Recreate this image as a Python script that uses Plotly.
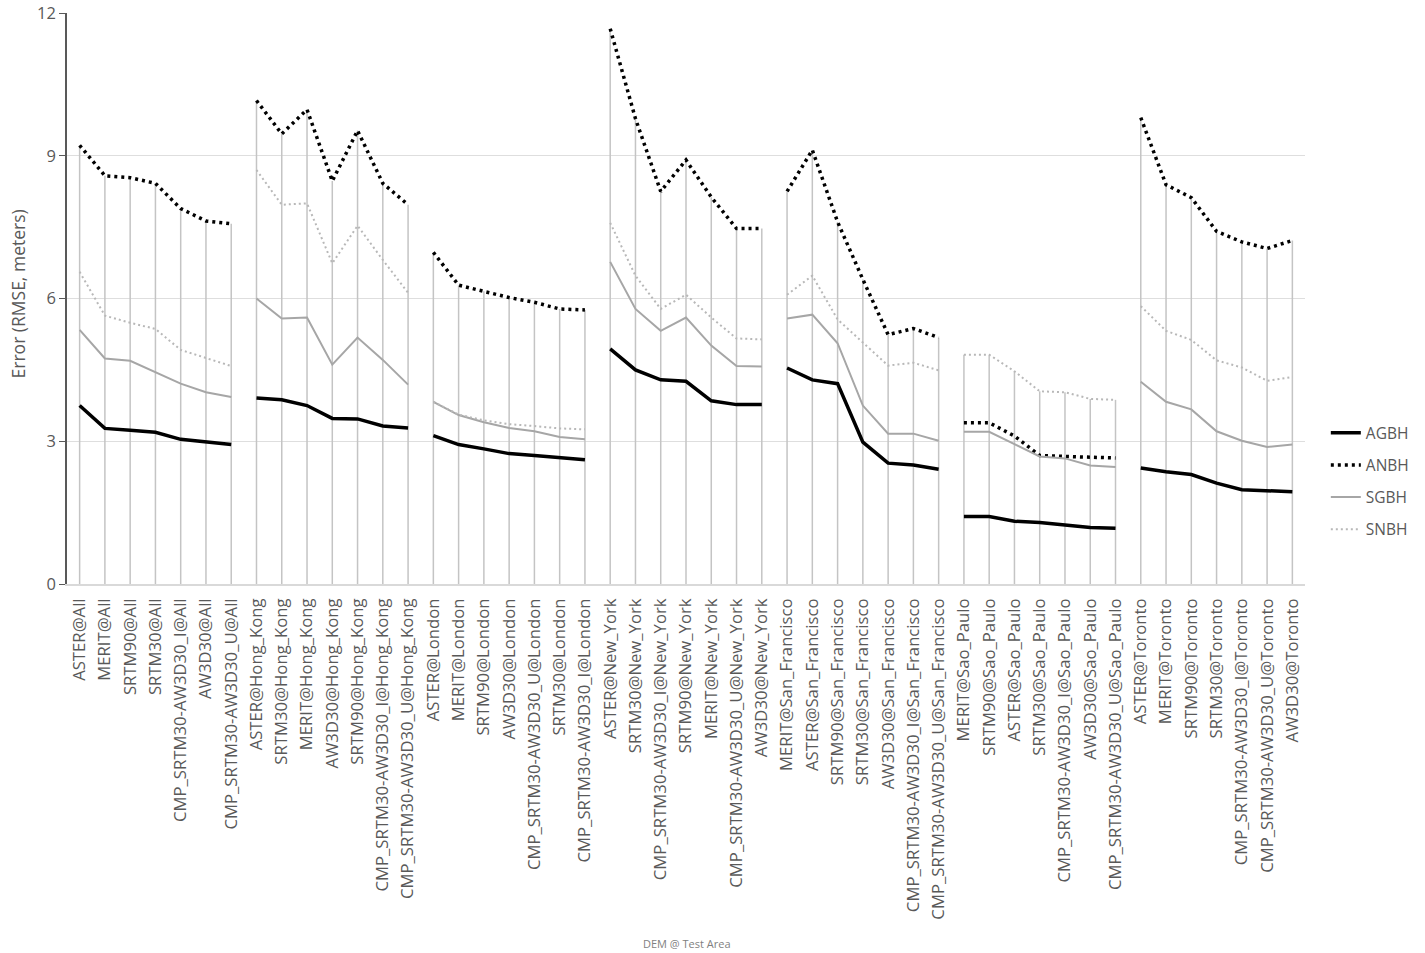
import plotly.graph_objects as go

categories = [
    "ASTER@All", "MERIT@All", "SRTM90@All", "SRTM30@All",
    "CMP_SRTM30-AW3D30_I@All", "AW3D30@All", "CMP_SRTM30-AW3D30_U@All",
    "ASTER@Hong_Kong", "SRTM30@Hong_Kong", "MERIT@Hong_Kong", "AW3D30@Hong_Kong",
    "SRTM90@Hong_Kong", "CMP_SRTM30-AW3D30_I@Hong_Kong", "CMP_SRTM30-AW3D30_U@Hong_Kong",
    "ASTER@London", "MERIT@London", "SRTM90@London", "AW3D30@London",
    "CMP_SRTM30-AW3D30_U@London", "SRTM30@London", "CMP_SRTM30-AW3D30_I@London",
    "ASTER@New_York", "SRTM30@New_York", "CMP_SRTM30-AW3D30_I@New_York", "SRTM90@New_York",
    "MERIT@New_York", "CMP_SRTM30-AW3D30_U@New_York", "AW3D30@New_York",
    "MERIT@San_Francisco", "ASTER@San_Francisco", "SRTM90@San_Francisco", "SRTM30@San_Francisco",
    "AW3D30@San_Francisco", "CMP_SRTM30-AW3D30_I@San_Francisco", "CMP_SRTM30-AW3D30_U@San_Francisco",
    "MERIT@Sao_Paulo", "SRTM90@Sao_Paulo", "ASTER@Sao_Paulo", "SRTM30@Sao_Paulo",
    "CMP_SRTM30-AW3D30_I@Sao_Paulo", "AW3D30@Sao_Paulo", "CMP_SRTM30-AW3D30_U@Sao_Paulo",
    "ASTER@Toronto", "MERIT@Toronto", "SRTM90@Toronto", "SRTM30@Toronto",
    "CMP_SRTM30-AW3D30_I@Toronto", "CMP_SRTM30-AW3D30_U@Toronto", "AW3D30@Toronto",
]

AGBH = [3.75, 3.27, 3.23, 3.19, 3.04, 2.98, 2.93,
        3.91, 3.87, 3.75, 3.48, 3.47, 3.32, 3.28,
        3.12, 2.93, 2.84, 2.74, 2.70, 2.65, 2.61,
        4.94, 4.50, 4.29, 4.26, 3.85, 3.77, 3.77,
        4.54, 4.29, 4.21, 2.98, 2.54, 2.50, 2.41,
        1.42, 1.42, 1.32, 1.29, 1.24, 1.19, 1.17,
        2.44, 2.36, 2.30, 2.12, 1.98, 1.96, 1.94]

ANBH = [9.22, 8.58, 8.54, 8.42, 7.89, 7.63, 7.57,
        10.16, 9.46, 9.97, 8.47, 9.53, 8.42, 7.97,
        6.97, 6.28, 6.15, 6.02, 5.92, 5.78, 5.76,
        11.67, 9.78, 8.25, 8.91, 8.13, 7.47, 7.47,
        8.25, 9.12, 7.61, 6.40, 5.24, 5.37, 5.18,
        3.39, 3.39, 3.11, 2.70, 2.68, 2.66, 2.65,
        9.80, 8.39, 8.12, 7.41, 7.19, 7.05, 7.22]

SGBH = [5.34, 4.74, 4.69, 4.45, 4.21, 4.03, 3.93,
        6.00, 5.58, 5.60, 4.61, 5.18, 4.71, 4.19,
        3.83, 3.55, 3.40, 3.28, 3.21, 3.09, 3.04,
        6.77, 5.78, 5.32, 5.60, 5.01, 4.58, 4.57,
        5.58, 5.66, 5.06, 3.75, 3.16, 3.16, 3.01,
        3.20, 3.20, 2.94, 2.68, 2.64, 2.49, 2.46,
        4.25, 3.83, 3.67, 3.21, 3.01, 2.88, 2.93]

SNBH = [6.56, 5.64, 5.49, 5.36, 4.92, 4.75, 4.58,
        8.70, 7.97, 8.00, 6.74, 7.53, 6.81, 6.12,
        3.83, 3.56, 3.44, 3.36, 3.32, 3.27, 3.25,
        7.59, 6.48, 5.78, 6.08, 5.60, 5.16, 5.14,
        6.08, 6.48, 5.56, 5.08, 4.59, 4.65, 4.49,
        4.82, 4.82, 4.47, 4.05, 4.03, 3.89, 3.87,
        5.84, 5.32, 5.13, 4.70, 4.55, 4.27, 4.35]

y_ticks = [0, 3, 6, 9, 12]


def with_group_breaks(values):
    """Insert gaps between test-area groups so lines do not connect across them."""
    xs, ys = [], []
    prev_area = None
    for cat, v in zip(categories, values):
        area = cat.split("@")[1]
        if prev_area is not None and area != prev_area:
            xs.append(None)
            ys.append(None)
        xs.append(cat)
        ys.append(v)
        prev_area = area
    return xs, ys


fig = go.Figure()

# drop lines from the highest point of each category down to the axis
drop_x, drop_y = [], []
for i, cat in enumerate(categories):
    top = max(AGBH[i], ANBH[i], SGBH[i], SNBH[i])
    drop_x += [cat, cat, None]
    drop_y += [0, top, None]
fig.add_trace(go.Scatter(x=drop_x, y=drop_y, mode="lines",
                         line=dict(color="#c4c4c4", width=1.5),
                         showlegend=False, hoverinfo="skip"))

series = [
    ("AGBH", AGBH, dict(color="#000000", width=3.5)),
    ("ANBH", ANBH, dict(color="#000000", width=3.5, dash="3px,4px")),
    ("SGBH", SGBH, dict(color="#a6a6a6", width=2)),
    ("SNBH", SNBH, dict(color="#b8b8b8", width=2, dash="2px,3px")),
]
for name, vals, ln in series:
    xs, ys = with_group_breaks(vals)
    fig.add_trace(go.Scatter(x=xs, y=ys, mode="lines", name=name, line=ln,
                             connectgaps=False, legendgroup=name))

fig.update_layout(
    width=1425, height=953,
    margin=dict(l=67, r=119, t=13, b=369),
    paper_bgcolor="white", plot_bgcolor="white",
    font=dict(family="Open Sans", color="#595959"),
    showlegend=True,
    legend=dict(x=1.016, y=0.18, xanchor="left", yanchor="middle",
                font=dict(size=15.5, color="#595959"),
                traceorder="grouped", tracegroupgap=9,
                bgcolor="rgba(0,0,0,0)"),
    xaxis=dict(type="category", categoryorder="array", categoryarray=categories,
               range=[-0.5, len(categories) - 0.5], automargin=False,
               tickangle=-90, tickfont=dict(size=16.7, color="#595959"),
               showgrid=False, showline=True, linecolor="#d9d9d9", linewidth=1.5,
               ticks="", ticklabelstandoff=6, zeroline=False),
    yaxis=dict(range=[0, 12], tickvals=y_ticks, ticktext=[str(t) for t in y_ticks],
               tickfont=dict(size=16.5, color="#595959"), automargin=False,
               showgrid=True, gridcolor="#dedede", gridwidth=1.2,
               showline=True, linecolor="#595959", linewidth=1.5,
               ticks="outside", ticklen=6, tickcolor="#595959",
               zeroline=False),
    annotations=[
        dict(text="Error (RMSE, meters)", xref="paper", yref="paper",
             x=-0.04, y=0.508, textangle=-90, showarrow=False,
             font=dict(size=17.5, color="#595959"), xanchor="center", yanchor="middle"),
        dict(text="DEM @ Test Area", xref="paper", yref="paper",
             x=0.501, y=-0.629, showarrow=False,
             font=dict(size=11, color="#7f7f7f"), xanchor="center", yanchor="middle"),
    ],
)

fig.write_html("out.html")
